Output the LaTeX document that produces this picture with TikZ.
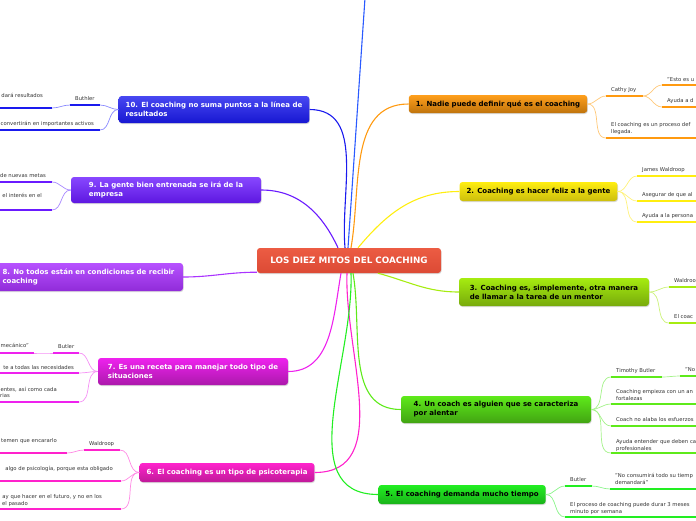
\documentclass[tikz,border=0pt]{standalone}
\usepackage{fontspec}
\setmainfont{DejaVu Sans}
\usetikzlibrary{shadows}
\definecolor{cOr}{HTML}{FF9A10}
\definecolor{cOrL}{HTML}{FFC878}
\definecolor{cYe}{HTML}{FFEE10}
\definecolor{cYeL}{HTML}{FFF27A}
\definecolor{cLi}{HTML}{A6EC10}
\definecolor{cLiL}{HTML}{CCF27A}
\definecolor{cGr}{HTML}{5EEA1A}
\definecolor{cGrL}{HTML}{A4F28A}
\definecolor{cBg}{HTML}{22EE22}
\definecolor{cBgL}{HTML}{8AF48A}
\definecolor{cMg}{HTML}{FF22CC}
\definecolor{cMgL}{HTML}{FF8AE4}
\definecolor{cPm}{HTML}{EE22EE}
\definecolor{cPmL}{HTML}{F590F5}
\definecolor{cVi}{HTML}{AA33FF}
\definecolor{cBv}{HTML}{6A1AFF}
\definecolor{cBvL}{HTML}{A888FF}
\definecolor{cBl}{HTML}{1A1AEE}
\definecolor{cBlL}{HTML}{8888FF}
\definecolor{cTop}{HTML}{2A5AFF}
\definecolor{cCenT}{HTML}{EC5C43}
\definecolor{cCenB}{HTML}{DC4A35}
\definecolor{cTxt}{HTML}{333333}
\begin{document}
\begin{tikzpicture}[x=1pt,y=-1pt,
  topic/.style={rounded corners=3pt, inner xsep=7pt, inner ysep=0pt, align=left,
    font=\fontsize{7}{9}\selectfont\bfseries,
    drop shadow={opacity=0.3,shadow xshift=0.6pt,shadow yshift=-1pt}},
  leaf/.style={inner sep=0pt, font=\fontsize{5.3}{7}\selectfont, text=cTxt},
  ul/.style={line width=2.4pt},
  thinc/.style={line width=0.7pt},
  br/.style={line width=1.1pt}
]
\useasboundingbox (0,0) rectangle (696,520);
\clip (0,0) rectangle (696,520);

% ---------- topic nodes ----------
\node[topic, top color=cOr!95!white, bottom color=cOr!75!black, minimum width=176pt, minimum height=18pt] (n1) at (498,104) {1. Nadie puede definir qué es el coaching};
\node[topic, top color=cYe, bottom color=cYe!80!black, minimum width=157pt, minimum height=19pt] (n2) at (538.5,191.5) {2. Coaching es hacer feliz a la gente};
\node[topic, top color=cLi, bottom color=cLi!72!black, minimum width=190pt, minimum height=28pt] (n3) at (554,292) {3. Coaching es, simplemente, otra manera\\de llamar a la tarea de un mentor};
\node[topic, top color=cGr, bottom color=cGr!70!black, minimum width=190pt, minimum height=27pt] (n4) at (496,409.5) {4. Un coach es alguien que se caracteriza\\por alentar};
\node[topic, top color=cBg, bottom color=cBg!75!black, minimum width=166pt, minimum height=19pt] (n5) at (462,494.5) {5. El coaching demanda mucho tiempo};
\node[topic, text=white, top color=cMg, bottom color=cMg!75!black, minimum width=174pt, minimum height=19pt] (n6) at (227,472.5) {6. El coaching es un tipo de psicoterapia};
\node[topic, text=white, top color=cPm, bottom color=cPm!72!black, minimum width=190pt, minimum height=27pt] (n7) at (193,371.5) {7. Es una receta para manejar todo tipo de\\situaciones};
\node[topic, text=white, top color=cVi!85!white, bottom color=cVi!85!black, minimum width=189pt, minimum height=28pt] (n8) at (88.5,277) {8. No todos están en condiciones de recibir\\coaching};
\node[topic, text=white, top color=cBv!80!white, bottom color=cBv!88!black, minimum width=190pt, minimum height=26pt] (n9) at (166,190) {9. La gente bien entrenada se irá de la\\empresa};
\node[topic, text=white, top color=cBl!80!white, bottom color=cBl!88!black, minimum width=190pt, minimum height=27pt] (n10) at (214,109.5) {10. El coaching no suma puntos a la línea de\\resultados};

\node[topic, text=white, top color=cCenT, bottom color=cCenB, minimum width=184pt, minimum height=25pt, align=center, font=\fontsize{8.8}{10}\selectfont\bfseries] (c) at (349,260.5) {LOS DIEZ MITOS DEL COACHING};

% ---------- main branches ----------
\coordinate (topend) at (365,-2);
\draw[br, cTop] ([xshift=-1pt]c.north) -- (topend);
\draw[br, cBl] ([xshift=-4pt]c.north) to[out=95,in=0] (n10.east);
\draw[br, cBv] ([xshift=-11pt]c.north) to[out=115,in=0] (n9.east);
\draw[br, cVi] ([yshift=1pt]c.south west) to[out=180,in=0] (n8.east);
\draw[br, cPm] ([xshift=-8pt]c.south) to[out=-100,in=0] (n7.east);
\draw[br, cMg] ([xshift=-2pt]c.south) to[out=-92,in=0] (n6.east);
\draw[br, cBg] ([xshift=2pt]c.south) to[out=-88,in=180] (n5.west);
\draw[br, cGr] ([xshift=4pt]c.south) to[out=-80,in=180] (n4.west);
\draw[br, cLi] ([xshift=29pt]c.south) to[out=-15,in=180] (n3.west);
\draw[br, cYe] ([xshift=9pt]c.north) to[out=50,in=180] (n2.west);
\draw[br, cOr] ([xshift=2pt]c.north) to[out=80,in=180] (n1.west);

% ---------- branch 1 ----------
\coordinate (a1s) at (606,96);  \coordinate (a1e) at (643,96);
\coordinate (a11s) at (662,85); \coordinate (a11e) at (700,85);
\coordinate (a12s) at (662,107);\coordinate (a12e) at (700,107);
\coordinate (a2s) at (606,138); \coordinate (a2e) at (700,138);
\draw[thinc, cOrL] (n1.east) to[out=0,in=180] (a1s);
\draw[thinc, cOrL] (n1.east) to[out=0,in=180] (a2s);
\draw[thinc, cOrL] (a1e) to[out=0,in=180] (a11s);
\draw[thinc, cOrL] (a1e) to[out=0,in=180] (a12s);
\draw[ul, cOr] (a1s) -- (a1e);
\draw[ul, cOr] (a11s) -- (a11e);
\draw[ul, cOr] (a12s) -- (a12e);
\draw[ul, cOr] (a2s) -- (a2e);
\node[leaf, anchor=base west] (t1) at (611,91) {Cathy Joy};
\node[leaf, anchor=base west] (t11) at (667,81) {"Esto es u};
\node[leaf, anchor=base west] (t12) at (667,102) {Ayuda a d};
\node[leaf, anchor=base west] (t2) at (611,126) {El coaching es un proceso def};
\node[leaf, anchor=base west] (t2b) at (611,133) {llegada.};

% ---------- branch 2 ----------
\coordinate (b1s) at (637,176); \coordinate (b1e) at (700,176);
\coordinate (b2s) at (637,201); \coordinate (b2e) at (700,201);
\coordinate (b3s) at (637,222); \coordinate (b3e) at (700,222);
\foreach \s in {b1s,b2s,b3s}{\draw[thinc, cYeL] (n2.east) to[out=0,in=180] (\s);}
\draw[ul, cYe] (b1s) -- (b1e);
\draw[ul, cYe] (b2s) -- (b2e);
\draw[ul, cYe] (b3s) -- (b3e);
\node[leaf, anchor=base west] (u1) at (642,171) {James Waldroop};
\node[leaf, anchor=base west] (u2) at (642,196) {Asegurar de que al};
\node[leaf, anchor=base west] (u3) at (642,217) {Ayuda a la persona};

% ---------- branch 3 ----------
\coordinate (d1s) at (669,287); \coordinate (d1e) at (700,287);
\coordinate (d2s) at (669,323); \coordinate (d2e) at (700,323);
\draw[thinc, cLiL] (n3.east) to[out=0,in=180] (d1s);
\draw[thinc, cLiL] (n3.east) to[out=0,in=180] (d2s);
\draw[ul, cLi] (d1s) -- (d1e);
\draw[ul, cLi] (d2s) -- (d2e);
\node[leaf, anchor=base west] (v1) at (674,282) {Waldroo};
\node[leaf, anchor=base west] (v2) at (674,318) {El coac};

% ---------- branch 4 ----------
\coordinate (e1s) at (611,377); \coordinate (e1e) at (662,377);
\coordinate (e11s) at (680,376); \coordinate (e11e) at (700,376);
\coordinate (e2s) at (611,404); \coordinate (e2e) at (700,404);
\coordinate (e3s) at (611,426); \coordinate (e3e) at (700,426);
\coordinate (e4s) at (611,453); \coordinate (e4e) at (700,453);
\foreach \s in {e1s,e2s,e3s,e4s}{\draw[thinc, cGrL] (n4.east) to[out=0,in=180] (\s);}
\draw[thinc, cGrL] (e1e) to[out=0,in=180] (e11s);
\draw[ul, cGr] (e1s) -- (e1e);
\draw[ul, cGr] (e11s) -- (e11e);
\draw[ul, cGr] (e2s) -- (e2e);
\draw[ul, cGr] (e3s) -- (e3e);
\draw[ul, cGr] (e4s) -- (e4e);
\node[leaf, anchor=base west] (w1) at (616,372) {Timothy Butler};
\node[leaf, anchor=base west] (w11) at (685,371) {"No};
\node[leaf, anchor=base west] (w2) at (616,393) {Coaching empieza con un an};
\node[leaf, anchor=base west] (w2b) at (616,400) {fortalezas};
\node[leaf, anchor=base west] (w3) at (616,421) {Coach no alaba los esfuerzos};
\node[leaf, anchor=base west] (w4) at (616,443) {Ayuda entender que deben ca};
\node[leaf, anchor=base west] (w4b) at (616,450) {profesionales};

% ---------- branch 5 ----------
\coordinate (f1s) at (565,486); \coordinate (f1e) at (592,486);
\coordinate (f11s) at (610,489); \coordinate (f11e) at (700,489);
\coordinate (f2s) at (565,517); \coordinate (f2e) at (700,517);
\draw[thinc, cBgL] (n5.east) to[out=0,in=180] (f1s);
\draw[thinc, cBgL] (n5.east) to[out=0,in=180] (f2s);
\draw[thinc, cBgL] (f1e) to[out=0,in=180] (f11s);
\draw[ul, cBg] (f1s) -- (f1e);
\draw[ul, cBg] (f11s) -- (f11e);
\draw[ul, cBg] (f2s) -- (f2e);
\node[leaf, anchor=base west] (x1) at (570,481) {Butler};
\node[leaf, anchor=base west] (x11) at (615,477) {"No consumirá todo su tiemp};
\node[leaf, anchor=base west] (x11b) at (615,484) {demandará"};
\node[leaf, anchor=base west] (x2) at (570,506) {El proceso de coaching puede durar 3 meses};
\node[leaf, anchor=base west] (x2b) at (570,513) {minuto por semana};

% ---------- branch 6 ----------
\coordinate (g1s) at (84,450); \coordinate (g1e) at (120,450);
\coordinate (g11s) at (-8,453); \coordinate (g11e) at (67,453);
\coordinate (g2s) at (-8,481); \coordinate (g2e) at (121,481);
\coordinate (g3s) at (-8,509); \coordinate (g3e) at (121,509);
\foreach \s in {g1e,g2e,g3e}{\draw[thinc, cMgL] (n6.west) to[out=180,in=0] (\s);}
\draw[thinc, cMgL] (g1s) to[out=180,in=0] (g11e);
\draw[ul, cMg] (g1s) -- (g1e);
\draw[ul, cMg] (g11s) -- (g11e);
\draw[ul, cMg] (g2s) -- (g2e);
\draw[ul, cMg] (g3s) -- (g3e);
\node[leaf, anchor=base west] (y1) at (89,445) {Waldroop};
\node[leaf, anchor=base east] (y11) at (57,442) {temen que encararlo};
\node[leaf, anchor=base east] (y2) at (113,470) {algo de psicología, porque esta obligado};
\node[leaf, anchor=base east] (y3) at (102,498) {ay que hacer en el futuro, y no en los};
\node[leaf, anchor=base east] (y3b) at (28,505) {el pasado};

% ---------- branch 7 ----------
\coordinate (h1s) at (53,353); \coordinate (h1e) at (79,353);
\coordinate (h11s) at (-8,353); \coordinate (h11e) at (34,353);
\coordinate (h2s) at (-8,373); \coordinate (h2e) at (79,373);
\coordinate (h3s) at (-8,402); \coordinate (h3e) at (79,402);
\foreach \s in {h1e,h2e,h3e}{\draw[thinc, cPmL] (n7.west) to[out=180,in=0] (\s);}
\draw[thinc, cPmL] (h1s) to[out=180,in=0] (h11e);
\draw[ul, cPm] (h1s) -- (h1e);
\draw[ul, cPm] (h11s) -- (h11e);
\draw[ul, cPm] (h2s) -- (h2e);
\draw[ul, cPm] (h3s) -- (h3e);
\node[leaf, anchor=base west] (z1) at (58,348) {Butler};
\node[leaf, anchor=base east] (z11) at (29,347) {mecánico"};
\node[leaf, anchor=base east] (z2) at (74,369) {te a todas las necesidades};
\node[leaf, anchor=base east] (z3) at (57,391) {entes, así como cada};
\node[leaf, anchor=base east] (z3b) at (10,397) {rias};

% ---------- branch 9 ----------
\coordinate (k1s) at (-8,182); \coordinate (k1e) at (52,182);
\coordinate (k2s) at (-8,210); \coordinate (k2e) at (52,210);
\draw[thinc, cBvL] (n9.west) to[out=180,in=0] (k1e);
\draw[thinc, cBvL] (n9.west) to[out=180,in=0] (k2e);
\draw[ul, cBv] (k1s) -- (k1e);
\draw[ul, cBv] (k2s) -- (k2e);
\node[leaf, anchor=base east] (m1) at (46,177) {de nuevas metas};
\node[leaf, anchor=base east] (m2) at (42,197) {el interés en el};

% ---------- branch 10 ----------
\coordinate (p1s) at (70,105); \coordinate (p1e) at (100,105);
\coordinate (p11s) at (-8,108); \coordinate (p11e) at (52,108);
\coordinate (p2s) at (-8,130); \coordinate (p2e) at (100,130);
\draw[thinc, cBlL] (n10.west) to[out=180,in=0] (p1e);
\draw[thinc, cBlL] (n10.west) to[out=180,in=0] (p2e);
\draw[thinc, cBlL] (p1s) to[out=180,in=0] (p11e);
\draw[ul, cBl] (p1s) -- (p1e);
\draw[ul, cBl] (p11s) -- (p11e);
\draw[ul, cBl] (p2s) -- (p2e);
\node[leaf, anchor=base west] (q1) at (75,100) {Buthler};
\node[leaf, anchor=base east] (q11) at (43,97) {dará resultados};
\node[leaf, anchor=base east] (q2) at (94,125) {convertirán en importantes activos};
\end{tikzpicture}
\end{document}
